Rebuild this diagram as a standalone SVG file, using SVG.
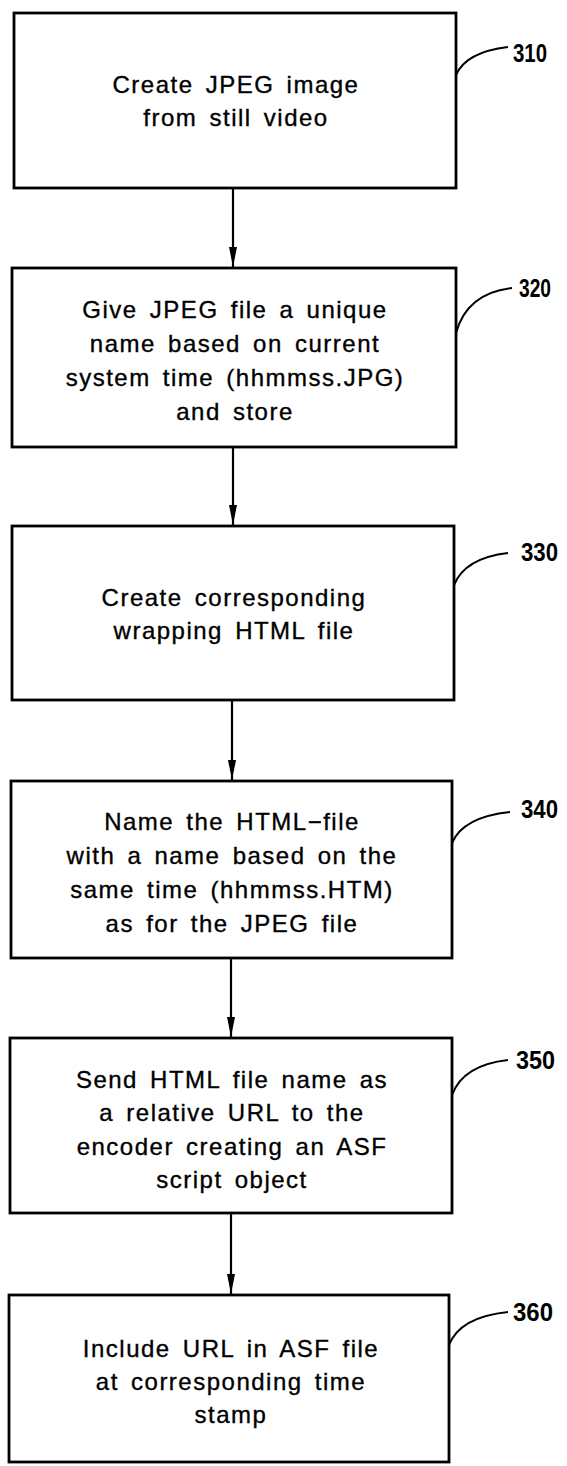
<svg xmlns="http://www.w3.org/2000/svg" width="567" height="1466" viewBox="0 0 567 1466">
<style>
.box{fill:#fff;stroke:#000;stroke-width:2.8}
.t{font-family:"Liberation Sans",Arial,sans-serif;font-size:24px;fill:#000;stroke:#000;stroke-width:0.35;text-anchor:middle;letter-spacing:1.5px;word-spacing:4px}
.lbl{font-family:"Liberation Sans",Arial,sans-serif;font-size:25px;fill:#000;font-weight:bold}
.lead{fill:none;stroke:#000;stroke-width:2}
.conn{fill:none;stroke:#000;stroke-width:2.2}
</style>
<defs>
<marker id="ah" viewBox="0 0 20 8" refX="20" refY="4" markerWidth="20" markerHeight="8" markerUnits="userSpaceOnUse" orient="auto">
<path d="M0,0 L20,4 L0,8 z" fill="#000"/>
</marker>
</defs>
<rect width="567" height="1466" fill="#fff"/>
<g id="connectors">
<line class="conn" x1="233" y1="188" x2="233" y2="267" marker-end="url(#ah)"/>
<line class="conn" x1="233" y1="447" x2="233" y2="525" marker-end="url(#ah)"/>
<line class="conn" x1="232" y1="700" x2="232" y2="780" marker-end="url(#ah)"/>
<line class="conn" x1="231" y1="958" x2="231" y2="1037" marker-end="url(#ah)"/>
<line class="conn" x1="231" y1="1213" x2="231" y2="1294" marker-end="url(#ah)"/>
</g>
<g id="n310">
<rect class="box" x="14" y="13" width="442" height="175"/>
<text class="t" x="236" y="93">Create JPEG image</text>
<text class="t" x="236" y="126">from still video</text>
<path class="lead" d="M456,75 Q466,52 508,47"/>
<text class="lbl" x="513" y="62" textLength="34" lengthAdjust="spacingAndGlyphs">310</text>
</g>
<g id="n320">
<rect class="box" x="12" y="268" width="444" height="179"/>
<text class="t" x="235" y="318">Give JPEG file a unique</text>
<text class="t" x="235" y="352">name based on current</text>
<text class="t" x="235" y="386">system time (hhmmss.JPG)</text>
<text class="t" x="235" y="420">and store</text>
<path class="lead" d="M456,333 Q467,293 512,288"/>
<text class="lbl" x="519" y="297" textLength="32" lengthAdjust="spacingAndGlyphs">320</text>
</g>
<g id="n330">
<rect class="box" x="12" y="526" width="442" height="174"/>
<text class="t" x="234" y="606">Create corresponding</text>
<text class="t" x="234" y="639">wrapping HTML file</text>
<path class="lead" d="M454,585 Q465,558 508,553"/>
<text class="lbl" x="521" y="561" textLength="37" lengthAdjust="spacingAndGlyphs">330</text>
</g>
<g id="n340">
<rect class="box" x="11" y="781" width="441" height="177"/>
<text class="t" x="232" y="830">Name the HTML−file</text>
<text class="t" x="232" y="864">with a name based on the</text>
<text class="t" x="232" y="898">same time (hhmmss.HTM)</text>
<text class="t" x="232" y="932">as for the JPEG file</text>
<path class="lead" d="M452,843 Q463,817 510,812"/>
<text class="lbl" x="521" y="818" textLength="37" lengthAdjust="spacingAndGlyphs">340</text>
</g>
<g id="n350">
<rect class="box" x="10" y="1038" width="442" height="175"/>
<text class="t" x="232" y="1088">Send HTML file name as</text>
<text class="t" x="232" y="1121">a relative URL to the</text>
<text class="t" x="232" y="1155">encoder creating an ASF</text>
<text class="t" x="232" y="1188">script object</text>
<path class="lead" d="M452,1095 Q463,1065 508,1060"/>
<text class="lbl" x="516" y="1069" textLength="39" lengthAdjust="spacingAndGlyphs">350</text>
</g>
<g id="n360">
<rect class="box" x="9" y="1295" width="440" height="167"/>
<text class="t" x="231" y="1357">Include URL in ASF file</text>
<text class="t" x="231" y="1390">at corresponding time</text>
<text class="t" x="231" y="1423">stamp</text>
<path class="lead" d="M449,1345 Q460,1317 508,1312"/>
<text class="lbl" x="513" y="1321" textLength="40" lengthAdjust="spacingAndGlyphs">360</text>
</g>
</svg>
